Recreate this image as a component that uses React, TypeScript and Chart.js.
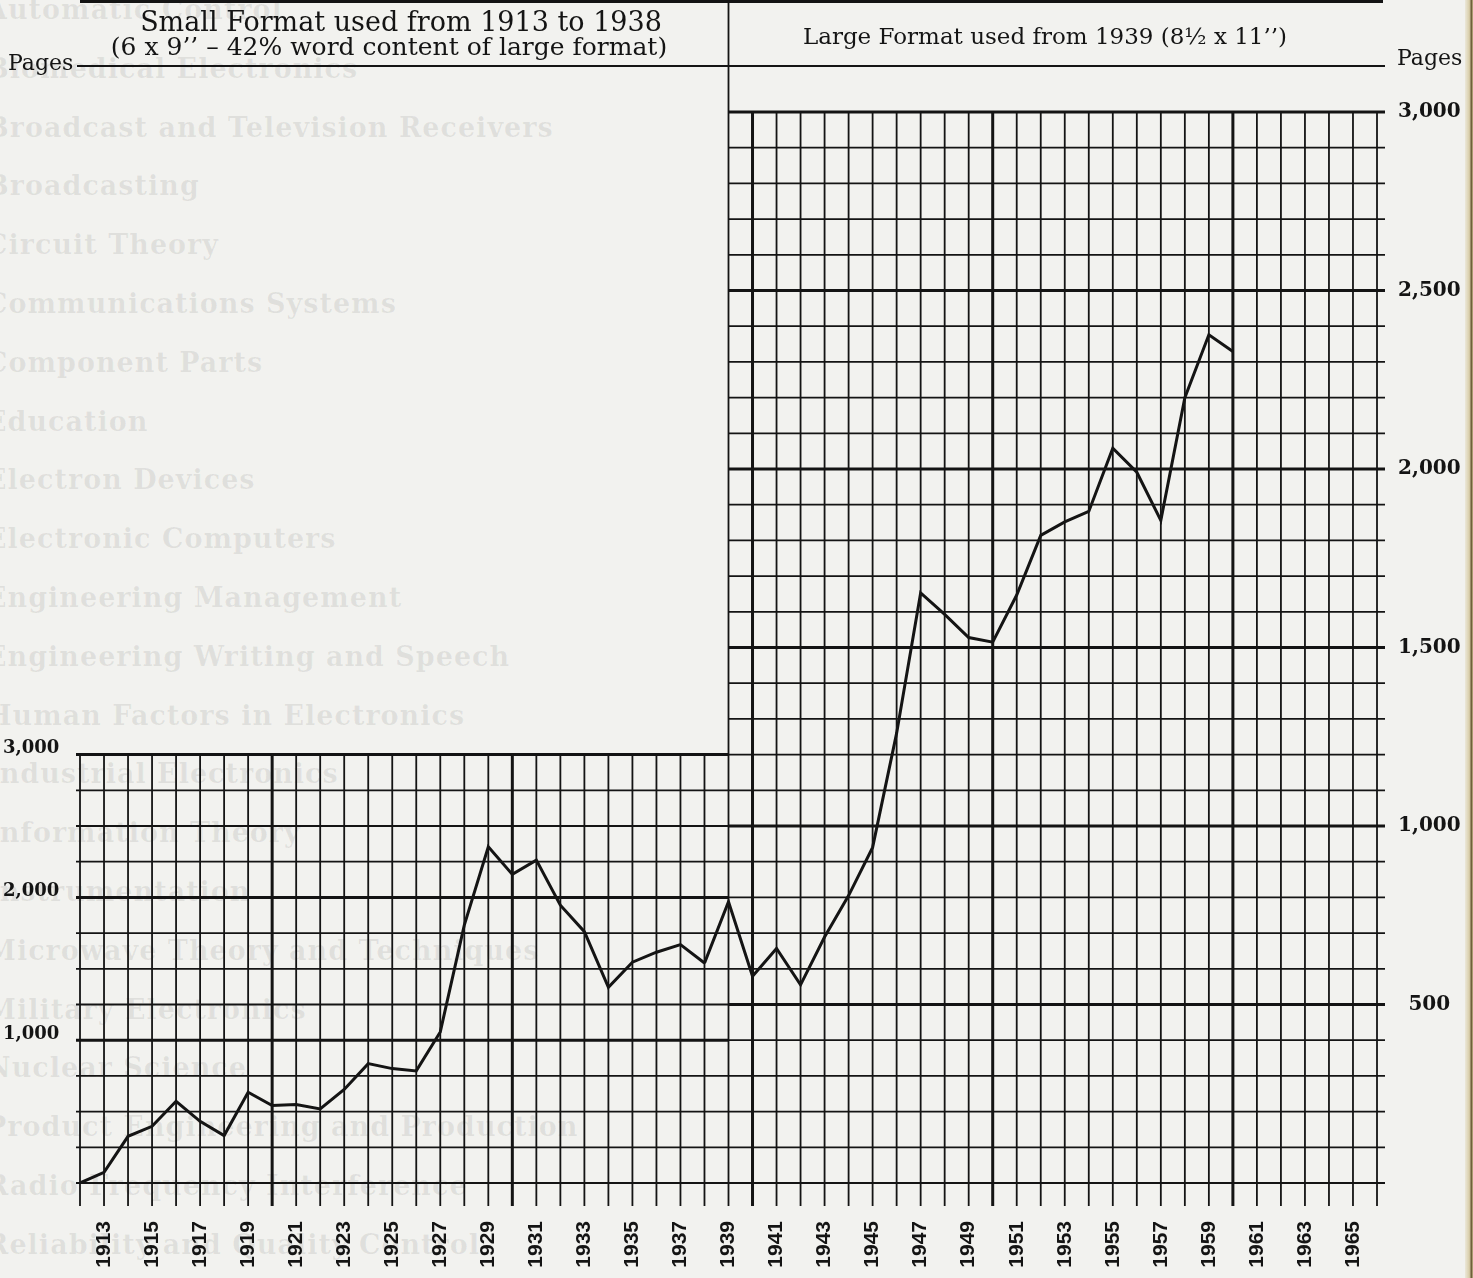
import React, { useEffect, useRef } from "react";
import { Chart, registerables } from "chart.js";

Chart.register(...registerables);

// Small format (6 x 9") pages per year, read on the left-hand axis
const smallYears = [1912, 1913, 1914, 1915, 1916, 1917, 1918, 1919, 1920, 1921, 1922, 1923, 1924, 1925, 1926, 1927, 1928, 1929, 1930, 1931, 1932, 1933, 1934, 1935, 1936, 1937, 1938];
const smallPages = [0, 75, 327, 397, 572, 432, 332, 636, 542, 549, 519, 655, 836, 801, 785, 1058, 1806, 2355, 2161, 2261, 1945, 1760, 1371, 1546, 1616, 1669, 1541];

// Large format (8½ x 11") pages per year, read on the right-hand axis (1938 joins the two lines)
const largeYears = [1938, 1939, 1940, 1941, 1942, 1943, 1944, 1945, 1946, 1947, 1948, 1949, 1950, 1951, 1952, 1953, 1954, 1955, 1956, 1957, 1958, 1959, 1960];
const largePages = [616, 788, 579, 657, 555, 689, 805, 940, 1260, 1653, 1593, 1528, 1515, 1647, 1814, 1852, 1881, 2058, 1991, 1856, 2200, 2376, 2329];

const yearLabels = [1913, 1915, 1917, 1919, 1921, 1923, 1925, 1927, 1929, 1931, 1933, 1935, 1937, 1939, 1941, 1943, 1945, 1947, 1949, 1951, 1953, 1955, 1957, 1959, 1961, 1963, 1965];
const leftTicks = [1000, 2000, 3000];
const rightTicks = [500, 1000, 1500, 2000, 2500, 3000];

const headerSmall = ["Small Format used from 1913 to 1938", "(6 x 9’’ – 42% word content of large format)"];
const headerLarge = "Large Format used from 1939 (8½ x 11’’)";
const axisTitle = "Pages";

// faint text showing through from the facing page of the scan
const showThrough = [
  "Automatic Control", "Biomedical Electronics", "Broadcast and Television Receivers", "Broadcasting",
  "Circuit Theory", "Communications Systems", "Component Parts", "Education", "Electron Devices",
  "Electronic Computers", "Engineering Management", "Engineering Writing and Speech",
  "Human Factors in Electronics", "Industrial Electronics", "Information Theory", "Instrumentation",
  "Microwave Theory and Techniques", "Military Electronics", "Nuclear Science",
  "Product Engineering and Production", "Radio Frequency Interference", "Reliability and Quality Control",
];

const INK = "#141414";

const paperGrid = {
  id: "paperGrid",
  beforeDatasetsDraw(chart: any) {
    const { ctx } = chart;
    const x = chart.scales.x;
    const yL = chart.scales.yL;
    const yR = chart.scales.yR;
    const xStart = x.getPixelForValue(1912);
    const xSplit = x.getPixelForValue(1939);
    const xEnd = x.getPixelForValue(1966);
    const yBase = yR.getPixelForValue(0);
    const yTopL = yL.getPixelForValue(3000);
    const yTopR = yR.getPixelForValue(3000);
    ctx.save();
    ctx.strokeStyle = INK;
    const line = (x1: number, y1: number, x2: number, y2: number, w: number) => {
      ctx.lineWidth = w;
      ctx.beginPath();
      ctx.moveTo(x1, y1);
      ctx.lineTo(x2, y2);
      ctx.stroke();
    };
    // small-format region: a line every 250 pages, heavy every 1000
    for (let v = 0; v <= 3000; v += 250) {
      const y = yL.getPixelForValue(v);
      line(xStart - 4, y, xSplit, y, v === 0 ? 2.2 : v % 1000 === 0 ? 3 : 1.8);
    }
    // large-format region: a line every 100 pages, heavy every 500
    for (let v = 0; v <= 3000; v += 100) {
      const y = yR.getPixelForValue(v);
      line(xSplit, y, xEnd + 8, y, v === 0 ? 2.2 : v % 500 === 0 ? 3 : 1.8);
    }
    // a vertical line for every year, heavy every decade
    for (let yr = 1912; yr <= 1966; yr++) {
      const px = x.getPixelForValue(yr);
      const top = yr === 1939 ? 0 : yr < 1939 ? yTopL : yTopR;
      line(px, top, px, yBase + 23, yr % 10 === 0 ? 3 : 1.8);
    }
    // header box
    line(xStart, 1.5, xEnd + 6, 1.5, 3);
    line(xStart - 3, 66, xEnd + 8, 66, 2);
    ctx.restore();
  },
};

export default function App() {
  const canvasRef = useRef<HTMLCanvasElement | null>(null);

  useEffect(() => {
    document.body.style.margin = "0";
    const canvas = canvasRef.current;
    if (!canvas) return;
    const chart = new Chart(canvas, {
      type: "line",
      data: {
        datasets: [
          {
            label: "Small format",
            data: smallYears.map((yr, i) => ({ x: yr, y: smallPages[i] })),
            yAxisID: "yL",
            borderColor: INK,
            borderWidth: 3,
            borderJoinStyle: "miter",
            pointRadius: 0,
            tension: 0,
          },
          {
            label: "Large format",
            data: largeYears.map((yr, i) => ({ x: yr, y: largePages[i] })),
            yAxisID: "yR",
            borderColor: INK,
            borderWidth: 3,
            borderJoinStyle: "miter",
            pointRadius: 0,
            tension: 0,
          },
        ],
      },
      options: {
        animation: false,
        responsive: false,
        devicePixelRatio: 1,
        layout: { padding: { top: 112, left: 3, right: 0, bottom: 0 } },
        plugins: { legend: { display: false }, tooltip: { enabled: false }, title: { display: false } },
        scales: {
          x: {
            type: "linear",
            min: 1912,
            max: 1966,
            afterBuildTicks: (scale: any) => {
              scale.ticks = yearLabels.map((v) => ({ value: v }));
            },
            afterFit: (scale: any) => {
              scale.height = 95;
            },
            grid: { display: false, drawTicks: false },
            border: { display: false },
            ticks: {
              autoSkip: false,
              minRotation: 90,
              maxRotation: 90,
              padding: 38,
              color: INK,
              font: { family: "Liberation Sans", size: 21, weight: "bold" },
              callback: (v: any) => String(v),
            },
          },
          yL: {
            type: "linear",
            position: "left",
            min: 0,
            max: 7500,
            afterBuildTicks: (scale: any) => {
              scale.ticks = leftTicks.map((v) => ({ value: v }));
            },
            afterFit: (scale: any) => {
              scale.width = 77;
            },
            grid: { display: false, drawTicks: false },
            border: { display: false },
            ticks: {
              crossAlign: "far",
              padding: 0,
              labelOffset: -6,
              color: INK,
              font: { family: "DejaVu Serif", size: 18, weight: "bold" },
              callback: (v: any) => Number(v).toLocaleString("en-US"),
            },
          },
          yR: {
            type: "linear",
            position: "right",
            min: 0,
            max: 3000,
            afterBuildTicks: (scale: any) => {
              scale.ticks = rightTicks.map((v) => ({ value: v }));
            },
            afterFit: (scale: any) => {
              scale.width = 96;
            },
            grid: { display: false, drawTicks: false },
            border: { display: false },
            ticks: {
              crossAlign: "center",
              padding: 21,
              color: INK,
              font: { family: "DejaVu Serif", size: 20, weight: "bold" },
              callback: (v: any) => Number(v).toLocaleString("en-US"),
            },
          },
        },
      } as any,
      plugins: [paperGrid],
    });
    return () => chart.destroy();
  }, []);

  const serif = '"DejaVu Serif", serif';
  return (
    <div
      style={{
        position: "absolute",
        left: 0,
        top: 0,
        width: 1473,
        height: 1278,
        background: "#f2f2ef",
        overflow: "hidden",
        fontFamily: serif,
        color: INK,
      }}
    >
      {showThrough.map((t, i) => (
        <div
          key={t}
          style={{
            position: "absolute",
            left: -14,
            top: 10 + i * 58.8 - 17,
            fontSize: 27,
            lineHeight: "34px",
            fontWeight: "bold",
            color: "rgba(40,40,40,0.09)",
            whiteSpace: "nowrap",
            letterSpacing: 1,
          }}
        >
          {t}
        </div>
      ))}
      <canvas ref={canvasRef} width={1473} height={1278} style={{ position: "absolute", left: 0, top: 0 }} />
      <div style={{ position: "absolute", left: 1, width: 800, top: 9, textAlign: "center", fontSize: 27, lineHeight: "26px", whiteSpace: "nowrap" }}>
        {headerSmall[0]}
      </div>
      <div style={{ position: "absolute", left: -11, width: 800, top: 34, textAlign: "center", fontSize: 25, lineHeight: "26px", whiteSpace: "nowrap" }}>
        {headerSmall[1]}
      </div>
      <div style={{ position: "absolute", left: 645, width: 800, top: 22, textAlign: "center", fontSize: 23, lineHeight: "28px", whiteSpace: "nowrap" }}>
        {headerLarge}
      </div>
      <div style={{ position: "absolute", left: 8, top: 49, fontSize: 22, lineHeight: "28px" }}>{axisTitle}</div>
      <div style={{ position: "absolute", left: 1397, top: 44, fontSize: 22, lineHeight: "28px" }}>{axisTitle}</div>
      <div
        style={{
          position: "absolute",
          left: 1465,
          top: 0,
          width: 8,
          height: 1278,
          background: "linear-gradient(to right, #ece8da, #d8cda8 55%, #6a5a36 80%, #c8b88c)",
        }}
      />
    </div>
  );
}
